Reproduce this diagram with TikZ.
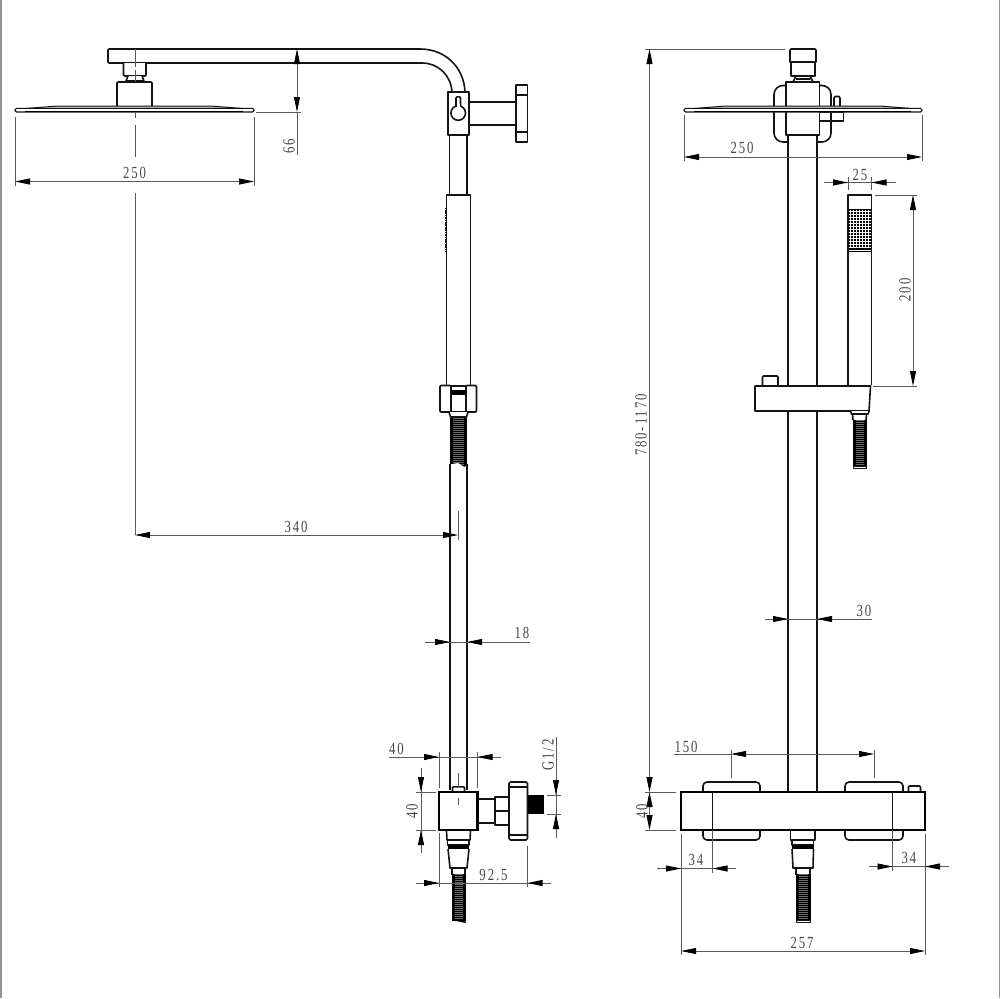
\documentclass[tikz,border=0pt]{standalone}
\usepackage{fontspec}
\setmainfont{Liberation Serif}
\usetikzlibrary{arrows.meta}
\definecolor{dimgray}{HTML}{5A5A5A}
\newcommand{\threadhose}[5]{% x1 x2 y1 y2 second-stripe
  \fill[black] (#1,#3) rectangle (#2,#4);
  \foreach \yy in {#3,#5,...,#4}{\draw[white!42!black,line width=.45pt] (#1+3,\yy) -- (#2-3,\yy);}
}
\tikzset{
  part/.style={draw=black!92,line width=1.6pt,line join=round},
  partw/.style={part,fill=white},
  heavy/.style={draw=black,line width=2.4pt,fill=white,line join=miter},
  dimline/.style={draw=dimgray,line width=.8pt},
  tipdim/.style={dimline,-{Triangle[length=15pt,width=6pt,fill=black,color=black]}},
  lab/.style={text=black!72,font=\fontsize{17}{17}\selectfont\addfontfeature{LetterSpace=15},inner sep=0pt,outer sep=0pt,xscale=.75},
  labv/.style={text=black!72,font=\fontsize{17}{17}\selectfont\addfontfeature{LetterSpace=15},inner sep=0pt,outer sep=0pt,rotate=90,xscale=.75},
}
\begin{document}
\begin{tikzpicture}[x=1pt,y=-1pt]
\useasboundingbox (0,0) rectangle (1000,998);
\fill[white] (0,0) rectangle (1000,998);
\fill[gray!85] (0,0) rectangle (1.5,998);
\fill[gray!85] (998.8,0) rectangle (1000,998);

% ---------- LEFT VIEW ----------
% shower arm
\draw[part] (465,92) .. controls (464,67) and (445,49) .. (420,49) -- (109,49) -- (108,50) -- (108,62) -- (109,63) -- (422,63) .. controls (438,63) and (451,75) .. (452,92);
\draw[part,fill=white] (123.5,63) -- (123.5,75) -- (125,76) -- (145,76) -- (146,75) -- (146,63);
\draw[part,fill=white] (128,76) -- (126,81) -- (144,81) -- (142,76);
\draw[part,fill=white] (117,106) -- (117,83) -- (118,82) -- (151,82) -- (152,83) -- (152,106);
% head plate
\path[fill=gray!45] (25,108.5) -- (58,106) -- (210,106) -- (243,108.5) -- cycle;
\draw[part,line width=1pt] (25,108.5) -- (58,106) -- (210,106) -- (243,108.5);
\draw[part,fill=white,rounded corners=1.5pt,line width=1.1pt] (15,108.3) -- (254,108.3) -- (254,112) -- (15,112) -- cycle;
\draw[draw=black,line width=1pt] (25,111) -- (243,111);
% pipe
\draw[part] (449.5,135) -- (449.5,195) (467,135) -- (467,195);
\draw[part] (450,464) -- (450,790) (467,464) -- (467,790);
% wall bracket
\draw[partw] (469,102) rectangle (516,125);
\draw[partw] (516,85) rectangle (527.5,142);
\draw[part] (516,95) -- (527.5,95) (516,132) -- (527.5,132);
\draw[partw] (448,92) rectangle (469,135);
\draw[part] (456,106) -- (456,98) -- ++(1,-1.2) -- ++(2.5,0) -- (460.5,98) -- (460.5,106);
\draw[partw] (458.2,113) circle[radius=7.3];
\fill[white] (456.9,104) rectangle (459.6,107);
% hand shower
\draw[partw] (446.5,385) -- (446.5,195) -- (470.5,195) -- (470.5,385);
\draw[part,line width=2.2pt,dash pattern=on 1.2pt off .5pt] (445.8,208) -- (445.8,252);
% holder
\draw[partw,rounded corners=1pt] (440,385.5) rectangle (451,412);
\draw[partw,rounded corners=1pt] (466,385.5) rectangle (476.5,412);
\draw[part] (451,386) -- (466,386) (451,412) -- (466,412);
\fill[black] (451,389.5) rectangle (466,395);
\draw[partw] (449,412) -- (450.5,417) -- (466.5,417) -- (468,412);
\threadhose{450}{467}{418}{467}{420}
\fill[white] (449,464.5) -- (458,463) -- (464,467) -- (468,465) -- (468,470) -- (449,470) -- cycle;
\draw[part] (450,464) -- (450,470) (467,464) -- (467,470);
% valve
\draw[part,fill=white] (452.5,792) -- (452.5,787.5) -- (453.5,786.8) -- (463.5,786.8) -- (464.5,787.5) -- (464.5,792);
\draw[partw] (477.5,799) rectangle (495,823);
\draw[partw] (495,797) rectangle (509,825);
\draw[part] (495,811) -- (509,811);
\draw[partw,rounded corners=1.5pt] (509,782) rectangle (527.5,840);
\draw[part] (509,787) -- (527.5,787) (509,835) -- (527.5,835);
\fill[black] (527.5,795) rectangle (544,814);
\draw[heavy] (439,792) rectangle (477.5,830);
% lower fitting left
\draw[partw] (446.5,831) -- (447,840) -- (470,840) -- (470.5,831);
\draw[partw] (447.5,840) rectangle (469,845);
\fill[black] (447.5,844.5) rectangle (469,849);
\draw[partw] (448,849) -- (450,868) -- (467,868) -- (469,849);
\draw[part] (452,868) -- (452,875) (465,868) -- (465,875);
\threadhose{451.5}{465.5}{874}{921}{876}
\fill[black] (451.5,920) -- (465.5,923) -- (465.5,920) -- cycle;

% dimensions left view
\draw[dimline] (135,49) -- (135,67) (135,112) -- (135,118) (135,125) -- (135,157) (135,193) -- (135,535);
\draw[dimline] (135,70) -- (135,82);
\draw[dimline] (15,117) -- (15,186) (254,117) -- (254,186);
\draw[tipdim] (135,181.5) -- (15,181.5);
\draw[tipdim] (135,181.5) -- (254,181.5);
\node[lab] (d250a) at (134.5,173) {250};
\draw[tipdim] (297,80) -- (297,49);
\draw[tipdim] (297,80) -- (297,112);
\draw[dimline] (297,112) -- (297,155) (256,112) -- (301,112);
\node[labv] (d66) at (289,146) {66};
\draw[tipdim] (296,535) -- (458,535);
\draw[tipdim] (296,535) -- (135,535);
\draw[dimline] (458,511) -- (458,540);
\node[lab] (d340) at (296,527) {340};
\draw[dimline] (425,642) -- (530,642);
\draw[tipdim] (425,642) -- (450,642);
\draw[tipdim] (530,642) -- (467,642);
\node[lab] (d18) at (522,633) {18};
\draw[dimline] (389,757) -- (501,757);
\draw[tipdim] (389,757) -- (439,757);
\draw[tipdim] (501,757) -- (477.5,757);
\draw[dimline] (439,752) -- (439,788) (477.5,752) -- (477.5,788);
\draw[dimline] (458,773) -- (458,787) (458,798) -- (458,805);
\node[lab] (d40a) at (396.5,749) {40};
\draw[dimline] (421,768) -- (421,853);
\draw[tipdim] (421,768) -- (421,792);
\draw[tipdim] (421,853) -- (421,830);
\draw[dimline] (416,792) -- (436,792) (416,830) -- (436,830);
\node[labv] (d40b) at (412,811) {40};
\draw[dimline] (556,737) -- (556,838);
\draw[tipdim] (556,737) -- (556,795);
\draw[tipdim] (556,838) -- (556,814);
\draw[dimline] (547,795) -- (561,795) (547,814) -- (561,814);
\node[labv] (dg) at (548,755) {G1/2};
\draw[dimline] (416,883) -- (551,883);
\draw[tipdim] (416,883) -- (439,883);
\draw[tipdim] (551,883) -- (527.5,883);
\draw[dimline] (439,833) -- (439,887) (527.5,846) -- (527.5,887);
\node[lab] (d925) at (493.5,875) {92.5};

% ---------- RIGHT VIEW ----------
\draw[part,fill=white,rounded corners=9pt] (786,85.5) -- (774,85.5) -- (774,142) -- (788,142);
\draw[part,fill=white,rounded corners=9pt] (819.5,85.5) -- (831,85.5) -- (831,142) -- (817,142);
\draw[part] (788,135) -- (788,792) (817,135) -- (817,792);
\draw[part] (790,62) -- (790,50) -- (791,49) -- (815,49) -- (816,50) -- (816,62) -- cycle;
\draw[part] (791,62) -- (791,76) -- (815,76) -- (815,62);
\draw[part] (796,76) -- (793,82) (810,76) -- (813,82) (796,79) -- (810,79);
\draw[partw] (786,82) rectangle (819.5,135);
\draw[part,fill=white] (834,106) -- (834,98) -- (835,96.5) -- (839,96.5) -- (840,98) -- (840,106);
\draw[partw] (819.5,112) rectangle (831,121);
\draw[partw] (831,112) rectangle (843.5,121);
\path[fill=gray!45] (694,108.5) -- (726,106) -- (880,106) -- (911,108.5) -- cycle;
\draw[part,line width=1pt] (694,108.5) -- (726,106) -- (880,106) -- (911,108.5);
\draw[part,fill=white,rounded corners=1.5pt,line width=1.1pt] (684,108.3) -- (922,108.3) -- (922,112) -- (684,112) -- cycle;
\draw[draw=black,line width=1pt] (694,111) -- (911,111);

% hand shower right
\draw[partw] (848,385) -- (848,195) -- (871.5,195) -- (871.5,385);
\fill[black] (848,209) rectangle (871.5,252);
\foreach \yy in {211,214,...,250}{\draw[white,line width=.6pt] (849,\yy) -- (871,\yy);}
\foreach \xx in {850,853,...,871}{\draw[white,line width=.6pt] (\xx,209.5) -- (\xx,248);}
\draw[part] (848,195) -- (848,252) (871.5,195) -- (871.5,252);
% slide bracket
\draw[part,fill=white] (762.5,386) -- (762.5,377) -- (763.5,376) -- (777,376) -- (778,377) -- (778,386);
\draw[partw] (755,386) -- (870.5,386) -- (869,411) -- (755,411) -- cycle;
\draw[partw] (850.5,411) -- (851.5,414) -- (868,414) -- (869,411);
\draw[part] (852.5,414) -- (853,420) (866.5,414) -- (866,420);
\threadhose{852.5}{866.5}{420}{466}{422}
\draw[part,fill=white,line width=1pt] (853,466) rectangle (866,468);

% mixer
\draw[partw,rounded corners=4pt] (703,792) -- (703,782) -- (760,782) -- (760,792);
\draw[partw,rounded corners=4pt] (845,792) -- (845,782) -- (903,782) -- (903,792);
\draw[partw,rounded corners=4pt] (703,830) -- (703,840) -- (760,840) -- (760,830);
\draw[partw,rounded corners=4pt] (845,830) -- (845,840) -- (903,840) -- (903,830);
\draw[part,fill=white] (908.5,792) -- (908.5,787) -- (909.5,786) -- (919.5,786) -- (920.5,787) -- (920.5,792);
\draw[heavy] (681,792) rectangle (925,830);
\draw[part] (712.5,792) -- (712.5,830) (892.5,792) -- (892.5,830);
\draw[partw] (790.5,831) -- (790.5,840) -- (815,840) -- (815,831);
\draw[partw] (792,840) rectangle (813.5,845);
\fill[black] (792,844.5) rectangle (813.5,849);
\draw[partw] (792,849) -- (793,868) -- (813,868) -- (813.5,849);
\draw[part] (796,868) -- (796,875) (810,868) -- (810,875);
\threadhose{795.5}{810.5}{874}{920}{876}
\draw[part,fill=white,line width=1pt] (796,920) rectangle (810,922);

% dimensions right view
\draw[dimline] (645,49) -- (785,49);
\draw[tipdim] (649.5,425) -- (649.5,49);
\draw[tipdim] (649.5,425) -- (649.5,792);
\node[labv] (d780) at (641,425) {780-1170};
\draw[tipdim] (649.5,811) -- (649.5,792);
\draw[tipdim] (649.5,811) -- (649.5,830);
\draw[dimline] (645,792) -- (676,792) (645,830) -- (676,830);
\node[labv] (d40c) at (642,811) {40};
\draw[dimline] (684,115) -- (684,161) (922,115) -- (922,161);
\draw[tipdim] (800,157) -- (684,157);
\draw[tipdim] (800,157) -- (922,157);
\node[lab] (d250b) at (742,148) {250};
\draw[dimline] (824,182.5) -- (896,182.5);
\draw[tipdim] (824,182.5) -- (848,182.5);
\draw[tipdim] (896,182.5) -- (871.5,182.5);
\draw[dimline] (848,177) -- (848,190) (871.5,177) -- (871.5,190);
\node[lab] (d25) at (860,174.5) {25};
\draw[dimline] (875,195) -- (917,195) (873,386) -- (917,386);
\draw[tipdim] (913,290) -- (913,195);
\draw[tipdim] (913,290) -- (913,386);
\node[labv] (d200) at (905,290) {200};
\draw[dimline] (765,619) -- (872,619);
\draw[tipdim] (765,619) -- (788,619);
\draw[tipdim] (872,619) -- (817,619);
\node[lab] (d30) at (864,611) {30};
\draw[dimline] (674,754) -- (731,754);
\draw[tipdim] (800,754) -- (731,754);
\draw[tipdim] (800,754) -- (874,754);
\draw[dimline] (731,750) -- (731,778) (874,750) -- (874,778);
\node[lab] (d150) at (686,746.5) {150};
\draw[dimline] (681,834) -- (681,955) (925,834) -- (925,955);
\draw[dimline] (657,868.5) -- (736,868.5);
\draw[tipdim] (657,868.5) -- (681,868.5);
\draw[tipdim] (736,868.5) -- (712.5,868.5);
\draw[dimline] (712.5,830) -- (712.5,873);
\node[lab] (d34a) at (696,860) {34};
\draw[dimline] (869,866.5) -- (949,866.5);
\draw[tipdim] (869,866.5) -- (892.5,866.5);
\draw[tipdim] (949,866.5) -- (925,866.5);
\draw[dimline] (892.5,830) -- (892.5,871);
\node[lab] (d34b) at (909,858) {34};
\draw[tipdim] (800,951) -- (681,951);
\draw[tipdim] (800,951) -- (925,951);
\node[lab] (d257) at (802,942.5) {257};
\end{tikzpicture}
\end{document}
